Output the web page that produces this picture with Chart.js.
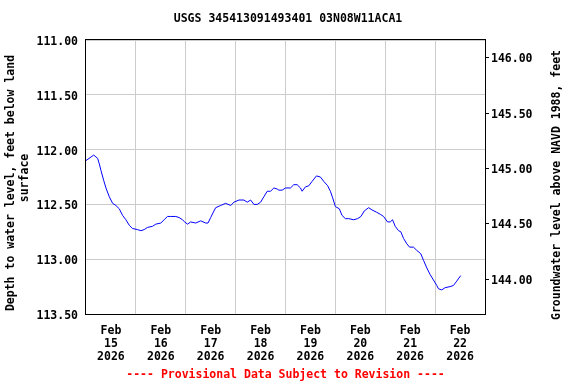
<!DOCTYPE html>
<html>
<head>
<meta charset="utf-8">
<script src="https://cdn.jsdelivr.net/npm/chart.js@4/dist/chart.umd.min.js"></script>
<style>
  html, body { margin: 0; padding: 0; background: #fff; }
  #wrap { width: 576px; height: 384px; }
</style>
</head>
<body>
<div id="wrap"><canvas id="gwChart" width="576" height="384"></canvas></div>
<script>
// hours since Feb 15 2026 00:00, depth below land surface (ft)
var hours = [0, 3.7, 5.6, 6.4, 7.2, 8.5, 9.6, 11.2, 12.8, 14.4,
  16.0, 17.6, 19.2, 20.8, 22.4, 24.8, 26.4, 28.0, 29.6, 32.0,
  33.6, 36.0, 37.6, 39.2, 40.8, 43.2, 44.8, 46.4, 47.5, 48.8,
  50.4, 52.8, 55.2, 57.6, 58.7, 60.0, 61.3, 62.4, 64.8, 67.2,
  69.6, 71.2, 73.6, 76.0, 77.6, 79.2, 80.8, 82.4, 84.0, 85.6,
  87.2, 88.8, 90.4, 92.0, 92.8, 94.4, 96.0, 98.4, 100.0, 101.6,
  103.2, 104.0, 105.6, 107.2, 108.8, 110.9, 112.8, 114.4, 116.3, 117.6,
  118.7, 120.0, 121.9, 123.2, 124.8, 126.4, 128.8, 130.7, 132.3, 133.9,
  136.0, 137.6, 139.7, 141.6, 143.2, 145.1, 146.4, 147.5, 148.8, 150.4,
  151.5, 152.8, 154.4, 155.7, 157.6, 159.2, 161.1, 162.4, 164.0, 165.6,
  167.2, 168.8, 169.6, 171.2, 172.8, 175.2, 176.8, 178.4, 180.3];
var depthFt = [112.10, 112.05, 112.08, 112.13, 112.19, 112.28, 112.35, 112.43, 112.49, 112.51,
  112.54, 112.60, 112.64, 112.69, 112.72, 112.73, 112.74, 112.73, 112.71, 112.70,
  112.68, 112.67, 112.64, 112.61, 112.61, 112.61, 112.62, 112.64, 112.66, 112.68,
  112.66, 112.67, 112.65, 112.67, 112.67, 112.62, 112.57, 112.53, 112.51, 112.49,
  112.51, 112.48, 112.46, 112.46, 112.48, 112.46, 112.50, 112.50, 112.48, 112.43,
  112.38, 112.38, 112.35, 112.36, 112.37, 112.37, 112.35, 112.35, 112.32, 112.32,
  112.35, 112.38, 112.34, 112.33, 112.29, 112.24, 112.25, 112.29, 112.33, 112.38,
  112.44, 112.52, 112.54, 112.60, 112.63, 112.63, 112.64, 112.63, 112.61, 112.56,
  112.53, 112.55, 112.57, 112.59, 112.61, 112.66, 112.66, 112.64, 112.70, 112.74,
  112.75, 112.81, 112.86, 112.89, 112.89, 112.92, 112.95, 113.01, 113.08, 113.14,
  113.19, 113.24, 113.27, 113.28, 113.26, 113.25, 113.24, 113.20, 113.15];

var dayLabels = ["15", "16", "17", "18", "19", "20", "21", "22"];
var monthLabel = "Feb";
var yearLabel = "2026";
var rightTicks = [144.0, 144.5, 145.0, 145.5, 146.0];

var MONO = "'DejaVu Sans Mono', 'Liberation Mono', monospace";
var FONT = "bold 11.5px " + MONO;

var points = hours.map(function(h, i){ return { x: h, y: depthFt[i] }; });

function vText(ctx, text, x, y){
  ctx.save();
  ctx.translate(x, y);
  ctx.rotate(-Math.PI / 2);
  ctx.fillText(text, 0, 0);
  ctx.restore();
}

// frame round the plot + the two vertical axis titles
var framePlugin = {
  id: "frame",
  afterDraw: function(chart){
    var a = chart.chartArea, ctx = chart.ctx;
    ctx.save();
    ctx.strokeStyle = "#000";
    ctx.lineWidth = 1;
    ctx.strokeRect(a.left - 0.5, a.top - 0.5, a.right - a.left + 1, a.bottom - a.top + 1);
    ctx.fillStyle = "#000";
    ctx.font = FONT;
    ctx.textAlign = "center";
    ctx.textBaseline = "middle";
    vText(ctx, "Depth to water level, feet below land", 11, 183);
    vText(ctx, "surface", 25, 178);
    vText(ctx, "Groundwater level above NAVD 1988, feet", 557, 185);
    ctx.restore();
  }
};

new Chart(document.getElementById("gwChart"), {
  type: "line",
  data: {
    datasets: [{
      data: points,
      yAxisID: "y",
      borderColor: "#0000ff",
      borderWidth: 1,
      pointRadius: 0,
      tension: 0,
      fill: false
    }]
  },
  options: {
    responsive: false,
    animation: false,
    layout: { padding: 0 },
    plugins: {
      legend: { display: false },
      tooltip: { enabled: false },
      title: {
        display: true,
        text: "USGS 345413091493401 03N08W11ACA1",
        color: "#000",
        font: { family: MONO, size: 11.5, weight: "bold", lineHeight: 1.2 },
        padding: { top: 12.1, bottom: 14.1 }
      }
    },
    scales: {
      x: {
        type: "linear",
        min: 0,
        max: 192,
        afterBuildTicks: function(scale){
          var t = [];
          for (var v = 0; v <= 192; v += 12) t.push({ value: v });
          scale.ticks = t;
        },
        afterFit: function(scale){ scale.height = 70; },
        grid: {
          drawTicks: false,
          color: function(ctx){
            var v = ctx.tick ? ctx.tick.value : 0;
            return (v % 24 === 0 && v > 0 && v < 192) ? "#cccccc" : "rgba(0,0,0,0)";
          }
        },
        border: { display: false },
        ticks: {
          autoSkip: false,
          maxRotation: 0,
          padding: 11,
          color: "#000",
          font: { family: MONO, size: 11.5, weight: "bold", lineHeight: 1.13 },
          callback: function(v){
            if (v % 24 !== 12) return "";
            var i = (v - 12) / 24;
            return [monthLabel, dayLabels[i], yearLabel];
          }
        },
        title: {
          display: true,
          text: "---- Provisional Data Subject to Revision ----",
          color: "#ff0000",
          font: { family: MONO, size: 11.5, weight: "bold", lineHeight: 1.13 },
          padding: { top: 0, bottom: 2.5 }
        }
      },
      y: {
        position: "left",
        reverse: true,
        min: 111,
        max: 113.5,
        afterFit: function(scale){ scale.width = 86; },
        grid: { drawTicks: false, color: "#cccccc" },
        border: { display: false },
        ticks: {
          stepSize: 0.5,
          padding: 8,
          labelOffset: 2,
          color: "#000",
          font: { family: MONO, size: 11.5, weight: "bold" },
          callback: function(v){ return v.toFixed(2); }
        }
      },
      y2: {
        position: "right",
        min: 143.687,
        max: 146.16,
        afterBuildTicks: function(scale){
          scale.ticks = rightTicks.map(function(v){ return { value: v }; });
        },
        afterFit: function(scale){ scale.width = 91; },
        grid: { drawOnChartArea: false, drawTicks: true, tickLength: 4, color: "#000" },
        border: { display: false },
        ticks: {
          padding: 2,
          labelOffset: 1.5,
          color: "#000",
          font: { family: MONO, size: 11.5, weight: "bold" },
          callback: function(v){ return v.toFixed(2); }
        }
      }
    }
  },
  plugins: [framePlugin]
});
</script>
</body>
</html>
